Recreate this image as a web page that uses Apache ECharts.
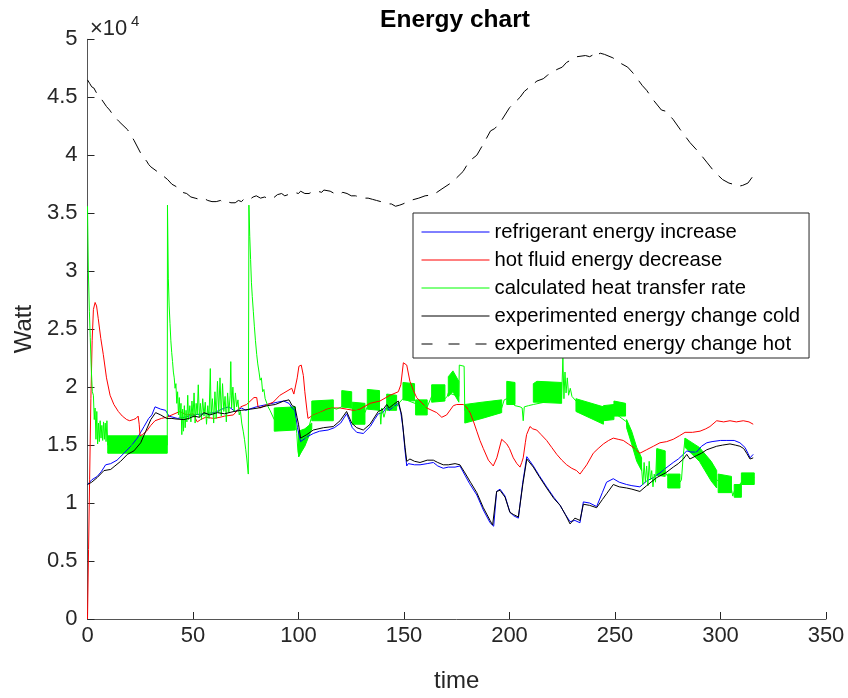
<!DOCTYPE html>
<html>
<head>
<meta charset="utf-8">
<title>Energy chart</title>
<script src="https://cdn.jsdelivr.net/npm/echarts@6/dist/echarts.min.js"></script>
<style>
  html, body { margin: 0; padding: 0; background: #ffffff; }
  #chart { width: 848px; height: 698px; }
</style>
</head>
<body>
<div id="chart"></div>
<script>
// Energy balance of the heat exchanger: [time, W]

const refrigerantIncrease = [
  [0,11600],[2,12000],[4.6,12300],[6.5,12700],[8.6,13300],[11,13400],[14,13700],[17.3,14300],
  [20.5,14900],[23.6,15600],[26.8,16600],[29,17300],[30.5,17600],[32,18300],[34.7,18100],[37,18000],
  [38.6,17500],[42.6,17300],[46,17400],[50,17600],[55,17700],[60,17800],[65,18200],[67,18300],
  [70,17900],[73,18200],[75,18000],[80,18300],[85,18500],[90,18700],[93,18800],[95.5,18600],
  [97,18200],[98.3,18000],[99.5,16500],[101,15300],[104,15700],[107,16000],[110,16200],[114,16300],
  [117,16500],[120,16900],[122.8,17700],[124,17200],[125.5,16500],[127.6,16100],[130.7,16000],
  [134,16600],[136,17200],[137.8,17700],[140,17800],[141.8,18300],[143,18000],[145,18300],
  [147.3,18600],[148.5,17800],[149.5,16500],[150.5,14500],[151.3,13200],[152,13400],[152.8,13500],
  [155,13300],[157.6,13300],[161,13400],[163.9,13500],[166,13200],[168.6,13000],[171,13100],
  [174.2,13100],[176.5,13200],[178.9,12400],[181,11700],[184.5,10700],[187.6,9400],[190.8,8300],
  [192.5,8000],[193.9,11000],[195.5,11200],[197.9,10600],[200.2,9200],[202,8900],[204.2,8700],
  [205,8600],[206.3,11800],[208.2,14000],[211.3,13200],[214,12400],[217.6,11400],[221,10500],
  [224,9800],[226.5,9000],[228.7,8400],[231,8500],[233.4,8300],[235,10100],[238,10000],
  [241.3,9700],[244,10900],[246,11800],[249.2,12100],[252,11800],[255.5,11600],[258,11500],
  [261.8,11400],[265,11900],[268.2,12200],[271.3,12600],[274,13000],[277.6,13500],[280,13800],
  [282.4,14200],[284,14500],[286,14400],[288.7,14400],[291,14900],[293.5,15200],[296,15300],
  [300,15400],[303,15400],[306.5,15400],[309.2,15200],[311.6,14800],[313,14300],[314,13900],
  [315.5,14200]
];

const hotFluidDecrease = [
  [0,0],[0.5,6000],[1,12000],[1.6,19000],[2.2,24000],[2.8,26700],[3.6,27300],[4.3,27000],
  [5.1,25900],[6.3,24200],[7.5,22800],[9,20800],[10.7,19300],[12.5,18500],[14.6,17900],
  [16.5,17500],[18.6,17200],[20,17100],[21.7,17200],[23,17300],[24,17500],[24.5,16800],
  [24.9,15800],[26,15900],[28,16200],[30,16700],[32,17100],[35,17300],[37.5,17400],[40,17600],
  [43.8,17900],[47,17600],[50.1,17700],[52,17000],[53.6,17200],[56,17400],[60,17300],
  [62.8,17400],[65,17500],[69.1,17600],[72.6,18300],[75.4,18500],[78.9,19100],[80.2,19100],
  [80.8,18300],[81.8,18200],[84,18400],[88,18700],[91.2,19300],[93.1,19500],[96.8,19900],
  [97.8,19400],[98.6,19300],[99.4,20800],[100.2,21800],[101.3,21900],[102.3,21000],[103,19600],
  [104,18000],[104.5,17300],[107,17600],[110,17800],[113.4,18100],[116,18200],[119.7,18200],
  [122.8,18100],[126,18000],[129.1,18100],[133.9,18600],[138.6,18800],[143.4,19300],[147.3,19600],
  [148.5,20200],[149.7,22100],[151.3,21900],[152.8,20500],[154.5,19700],[156,19100],[160.8,18200],
  [165.5,17800],[167.9,17400],[170.2,17600],[173.4,18400],[175,18500],[178.1,18500],[179.5,18300],
  [181.3,17800],[183,17000],[184.5,16200],[186,15400],[187.6,14700],[190,13700],[192.3,13200],
  [194,13900],[196.3,15500],[198.7,15100],[200,14700],[201.8,13900],[203.5,13400],[205,13100],
  [205.8,13500],[206.5,13900],[207.5,15200],[208.1,15900],[209.7,16600],[211,16400],[212.9,16300],
  [215,15900],[217.6,15400],[220,14800],[222.4,14200],[224.8,13700],[227.1,13300],[229.5,13000],
  [231.8,12800],[233.4,12500],[235,12900],[236.6,13300],[239.7,14300],[242,14700],[244.5,15100],
  [247,15400],[249.2,15600],[251.5,15500],[253.9,15400],[256.3,15100],[258.7,14800],[261.8,14300],
  [265,14600],[268.2,14900],[271.3,15200],[274.5,15300],[277.6,15500],[280.5,15800],[283.2,16100],
  [286.7,16100],[290.3,16200],[293,16400],[295,16600],[298.2,17100],[301.5,17000],[304.5,17100],
  [307.5,17000],[310.8,17100],[313.5,17000],[315.5,16800]
];

const heatTransferRate = [
  [0,35600],[0.4,30000],[0.9,26500],[1.3,24300],[1.8,21500],[2.3,19600],[2.8,19300],[3.2,17200],
  [3.6,18200],[4.0,15500],[4.4,17900],[4.8,15100],[5.2,16900],[5.6,15300],[6.0,17100],[6.4,15600],
  [6.8,16700],[7.2,15400],[7.6,17000],[8.0,15500],[8.4,16900],[8.8,15300],[9.2,17100],[9.6,15000],
  [37.8,15000],[37.9,35700],[38.3,29400],[38.7,27000],[39.1,25500],[39.5,24000],[39.9,23000],
  [40.3,22200],[40.7,21300],[41.1,20800],[41.5,19900],[41.9,20300],[42.3,18600],[42.7,19600],
  [43.1,17600],[43.5,19100],[43.9,17300],[44.3,18600],[44.7,15900],[45.1,18100],[45.5,16200],
  [45.9,18400],[46.3,16500],[46.7,18000],[47.1,17000],[47.5,19300],[47.9,17200],[48.5,18400],
  [49,17000],[49.5,18800],[50,17400],[50.5,19500],[51,16900],[51.5,18600],[52,17600],[52.5,20200],
  [53,17400],[53.5,18600],[54,17200],[54.6,19000],[55.2,17500],[55.8,18700],[56.4,16800],[57,18400],
  [57.6,17300],[58.2,21600],[58.6,17600],[59.2,19000],[59.8,16900],[60.4,19600],[61,17300],
  [61.6,20500],[62.2,17800],[62.8,20800],[63.4,17500],[64,20300],[64.6,17900],[65.2,19200],
  [65.8,17000],[66.4,19500],[67,17800],[67.6,19300],[67.9,22200],[68.3,18200],[68.9,20000],
  [69.5,17900],[70.1,19500],[70.7,18300],[71.3,18900],[71.9,17600],[72.5,17900],[73.1,16900],
  [73.8,16200],[74.4,15500],[75,14600],[75.5,13800],[76.2,12500],[76.5,35700],[76.9,33000],
  [77.3,31000],[77.7,29000],[78.1,27800],[78.6,26500],[79.1,25200],[79.6,24000],[80.2,22800],
  [80.7,22000],[81.3,21300],[81.8,20600],[82.4,20800],[83,19600],[83.6,19800],[84.2,19000],
  [84.9,18900],[85.6,18300],[86.5,18000],[88.5,17200],[98.5,17300],[99.2,16000],[99.7,14500],
  [100.2,14000],[103,15200],[106.3,17500],[116.5,18200],[118,18100],[120.5,18300],[125.2,18200],
  [131.5,17800],[132.6,18300],[138.6,18000],[139,16800],[139.5,18200],[140.5,17400],[141.8,18300],
  [146.5,18300],[148,18700],[149.5,19000],[155.2,18600],[161,18300],[163.1,19200],[169.4,19000],
  [170.5,19200],[171,19500],[176,19200],[176.2,21900],[178.5,21800],[178.8,18000],[196.3,18200],
  [197.5,18900],[198.7,19000],[202.6,18400],[205,18300],[206,18200],[206.5,17100],[207,18300],
  [209,18400],[211.3,18500],[224.7,19000],[225.3,22500],[225.8,19000],[226.3,21300],[226.8,19500],
  [227.4,20800],[228,19300],[228.8,19900],[229.6,19200],[230.5,19300],[231.5,18800],[244.5,17500],
  [249.5,17800],[255.5,17000],[262.6,13000],[263.2,11600],[263.8,13500],[264.4,11800],[265,13200],
  [265.6,11500],[266.2,13600],[266.8,12000],[267.4,12800],[268,11400],[268.6,12500],[269.2,11800],
  [269.8,14600],[273.8,12700],[274.5,12400],[275,12500],[280.8,11800],[281.5,12000],[282.3,14000],
  [283.2,15600],[298.2,12000],[298.9,12000],[305.2,11200],[305.8,10600],[306.5,11000],[309.9,11800],
  [316,12200]
];

// stretches where the calculated rate switches so fast it reads as a solid band:
// each row is [time, upper, lower]
const heatRateBands = [
  [[9.6,15800,14300],[37.8,15800,14300]],
  [[88.5,18200,16200],[98.5,18300,16300]],
  [[100,16200,14000],[103,16400,14900],[106.3,16900,16400]],
  [[106.3,18800,17100],[116.5,18900,17100]],
  [[120.5,19700,18300],[125.2,19600,18200]],
  [[125.5,18700,16800],[131.5,18600,16800]],
  [[132.6,19800,18100],[138.4,19700,18000]],
  [[141.8,19400,18000],[146.5,19300,18000]],
  [[149.5,20400,18900],[155,20300,18800]],
  [[155.5,18900,17600],[161,18900,17600]],
  [[163.1,20200,18700],[169.4,20200,18800]],
  [[171,20900,19200],[173.2,21400,19600],[176,20500,18700]],
  [[178.8,18500,16900],[187,18700,17300],[196.3,18900,17800]],
  [[198.7,20500,18500],[202.6,20400,18500]],
  [[211.3,20300,18700],[213,20500,18700],[224.7,20400,18600]],
  [[231.5,19000,17900],[244.5,18300,16800]],
  [[244.5,18400,17100],[249.5,18500,17200]],
  [[249.5,18800,17500],[255,18600,17500]],
  [[255.5,17200,16500],[257.9,16200,15100],[260.3,14800,13600],[262.6,13900,12800]],
  [[269.8,14700,12400],[273.8,14500,12300]],
  [[275,12500,11300],[280.8,12500,11300]],
  [[283.2,15600,14800],[290,14800,13600],[295.6,13600,11900],[298.2,12800,11300]],
  [[298.9,12500,10900],[305.2,12300,10900]],
  [[306.5,11600,10500],[309.9,11600,10500]],
  [[309.9,12600,11600],[316,12600,11600]]
];

const experimentedCold = [
  [0,11600],[2,11800],[4.6,12200],[7.8,12800],[11,12900],[13,13200],[15.7,13600],[18.9,14200],
  [22,14500],[25.2,15200],[27.6,16200],[30,17200],[32.3,17800],[34.7,17600],[37.5,17300],[40,17300],
  [42,17250],[45.7,17200],[48,17300],[50.5,17500],[53,17400],[55.2,17800],[58,17600],[61.5,17800],
  [65,17700],[69.4,17900],[73,18000],[77.3,18100],[81,18200],[85.2,18400],[89,18500],[93,18800],
  [95.5,18900],[97,18400],[98.3,18300],[99.3,17400],[100,16800],[101,15600],[103.9,15900],
  [107,16300],[111.8,16500],[116.5,16600],[119.7,17100],[122.8,17900],[125.2,16900],[127.6,16500],
  [130.7,16300],[133.9,16800],[137.8,17900],[140.2,18100],[141.8,18500],[143,18200],[145,18500],
  [147.3,18800],[148.9,17600],[150.5,14800],[151.3,13600],[152.8,13800],[155,13600],[157.6,13500],
  [161,13700],[163.9,13700],[166,13500],[168.6,13300],[171,13300],[174.2,13400],[176.5,13300],
  [178.9,12600],[181.5,11800],[184.5,10900],[187.6,9600],[190.8,8500],[192,8100],[193.9,11000],
  [195.5,11100],[197.9,10500],[200.2,9200],[202,9000],[204.2,8800],[205,8700],[206.3,11600],
  [208.2,13800],[211.3,13100],[214,12300],[217.6,11300],[221,10400],[224,9800],[226.5,9000],
  [228.7,8200],[231,8700],[233.4,8500],[235,9900],[238,9800],[241.3,9600],[244,10300],[246,10800],
  [249.2,11600],[252,11400],[255.5,11300],[258,11200],[261.8,11000],[265,11500],[269.8,12200],
  [274,12600],[277.6,13100],[280,13400],[282.4,13800],[284,14200],[285.5,13800],[288.7,14100],
  [291,14300],[293.5,14600],[298.2,14900],[301,15000],[304.5,15100],[307,15000],[309.2,14900],
  [311,14700],[312.4,14300],[314,13800],[315.5,13900]
];

const experimentedHot = [
  [0,46500],[1,46200],[2,45900],[3,45800],[4.5,45300],[6,45000],[9,44200],[10.5,43900],[12,43500],
  [13,43300],[15,42900],[19,42200],[22,41300],[26,39900],[28,39500],[29,39200],[30,39000],[33,38600],
  [36,38200],[38,37900],[40,37500],[42,37300],[45,36800],[47,36700],[49,36400],[51,36300],[53,36200],
  [55,36300],[57,36100],[59,36000],[61,36000],[63,36100],[64.5,35900],[66,36000],[68,35900],
  [70,35900],[71.5,36100],[73,36000],[74,36200],[76,36100],[77,36200],[78.5,36400],[80,36500],
  [82,36300],[84,36400],[86,36200],[88,36300],[90,36600],[92,36700],[93.5,36500],[95,36600],
  [98,36800],[100,36700],[101,36900],[103,36700],[105,36700],[107,36900],[109,36900],[111,36800],
  [112,37000],[115,36900],[117,36700],[119,36600],[121,36800],[123,36700],[125,36500],[127,36500],
  [129,36400],[131,36300],[133,36300],[135,36200],[137,36100],[139,36000],[142,35800],[144,35800],
  [146,35600],[148,35700],[149.5,35800],[153,36100],[157,36300],[160,36500],[164,36600],[168,37100],
  [173,37700],[178,38600],[181,39500],[184.5,40000],[188,41100],[191,42100],[193,42300],[195.5,42800],
  [200,44100],[205,45000],[207,45500],[209,45800],[213,46400],[216,46600],[218,46900],[222.5,47400],
  [225,47600],[227,48000],[230,48300],[232,48500],[236,48600],[238,48500],[240,48700],[241,48900],
  [242,48700],[243,48800],[245,48700],[249,48400],[253,47900],[256,47600],[258.5,47100],[263,46000],
  [265,45600],[268,44800],[272,43900],[274,43800],[277.5,43100],[281,42200],[285.5,41100],[290,40200],
  [293.5,39400],[297,38600],[301,37900],[304,37600],[306,37500],[308,37300],[310.5,37400],[313,37600],
  [315,38100]
];

const legendNames = [
  'refrigerant energy increase',
  'hot fluid energy decrease',
  'calculated heat transfer rate',
  'experimented energy change cold',
  'experimented energy change hot'
];

const FONT = '"Liberation Sans", Arial, Helvetica, sans-serif';
const TEXT_COLOR = '#262626';
const AXIS_LINE_COLOR = '#555555';

const chart = echarts.init(document.getElementById('chart'), null, { renderer: 'canvas' });

function plainLine(name, data, color, dash) {
  return {
    type: 'line',
    name: name,
    data: data,
    showSymbol: false,
    symbol: 'none',
    animation: false,
    lineStyle: { color: color, width: 1, type: dash || 'solid' },
    itemStyle: { color: color }
  };
}

const bandSeries = {
  type: 'custom',
  name: 'heat transfer rate bands',
  data: heatRateBands.map(function (b) { return [b[0][0], b[0][2]]; }),
  encode: { x: 0, y: 1 },
  silent: true,
  animation: false,
  renderItem: function (params, api) {
    const band = heatRateBands[params.dataIndex];
    const upper = band.map(function (r) { return api.coord([r[0], r[1]]); });
    const lower = band.slice().reverse().map(function (r) { return api.coord([r[0], r[2]]); });
    return {
      type: 'polygon',
      shape: { points: upper.concat(lower) },
      style: { fill: '#00ff00', stroke: '#00ff00', lineWidth: 1 }
    };
  }
};

chart.setOption({
  animation: false,
  backgroundColor: '#ffffff',
  title: {
    text: 'Energy chart',
    left: 455,
    top: 8,
    textAlign: 'center',
    padding: 0,
    textStyle: { fontFamily: FONT, fontSize: 24.5, fontWeight: 'bold', color: '#000000' }
  },
  grid: { left: 87.5, right: 22, top: 39.3, bottom: 75.7, containLabel: false },
  legend: {
    data: legendNames.map(function (n, i) {
      return i === 4
        ? { name: n, lineStyle: { width: 1, type: [11, 16] } }
        : { name: n, lineStyle: { width: 1 } };
    }),
    orient: 'vertical',
    left: 413,
    top: 213,
    itemWidth: 68,
    itemHeight: 13,
    itemGap: 8,
    padding: [9, 9, 4, 8],
    backgroundColor: '#ffffff',
    borderColor: TEXT_COLOR,
    borderWidth: 1,
    itemStyle: { opacity: 0 },
    lineStyle: { width: 1 },
    textStyle: { fontFamily: FONT, fontSize: 20.3, color: '#000000' }
  },
  xAxis: {
    type: 'value',
    min: 0,
    max: 350,
    interval: 50,
    name: 'time',
    nameLocation: 'middle',
    nameGap: 50,
    nameTextStyle: { fontFamily: FONT, fontSize: 24, color: TEXT_COLOR },
    axisLine: { show: true, onZero: false, lineStyle: { color: AXIS_LINE_COLOR, width: 1 } },
    axisTick: { show: true, inside: true, length: 7, lineStyle: { color: TEXT_COLOR } },
    axisLabel: { fontFamily: FONT, fontSize: 22, color: TEXT_COLOR, margin: 6 },
    splitLine: { show: false }
  },
  yAxis: {
    type: 'value',
    min: 0,
    max: 50000,
    interval: 5000,
    name: 'Watt',
    nameLocation: 'middle',
    nameGap: 43,
    nameTextStyle: { fontFamily: FONT, fontSize: 24, color: TEXT_COLOR },
    axisLine: { show: true, onZero: false, lineStyle: { color: AXIS_LINE_COLOR, width: 1 } },
    axisTick: { show: true, inside: true, length: 7, lineStyle: { color: TEXT_COLOR } },
    axisLabel: {
      fontFamily: FONT, fontSize: 22, color: TEXT_COLOR, margin: 10,
      formatter: function (v) { return String(v / 10000); }
    },
    splitLine: { show: false }
  },
  graphic: [
    {
      type: 'text', left: 90, top: 18, silent: true,
      style: { text: '×10', font: '22px ' + FONT, fill: TEXT_COLOR }
    },
    {
      type: 'text', left: 131, top: 14, silent: true,
      style: { text: '4', font: '15px ' + FONT, fill: TEXT_COLOR }
    }
  ],
  series: [
    plainLine(legendNames[0], refrigerantIncrease, '#0000ff'),
    plainLine(legendNames[1], hotFluidDecrease, '#ff0000'),
    plainLine(legendNames[2], heatTransferRate, '#00ff00'),
    bandSeries,
    plainLine(legendNames[3], experimentedCold, '#000000'),
    plainLine(legendNames[4], experimentedHot, '#000000', [16, 9])
  ]
});
</script>
</body>
</html>
